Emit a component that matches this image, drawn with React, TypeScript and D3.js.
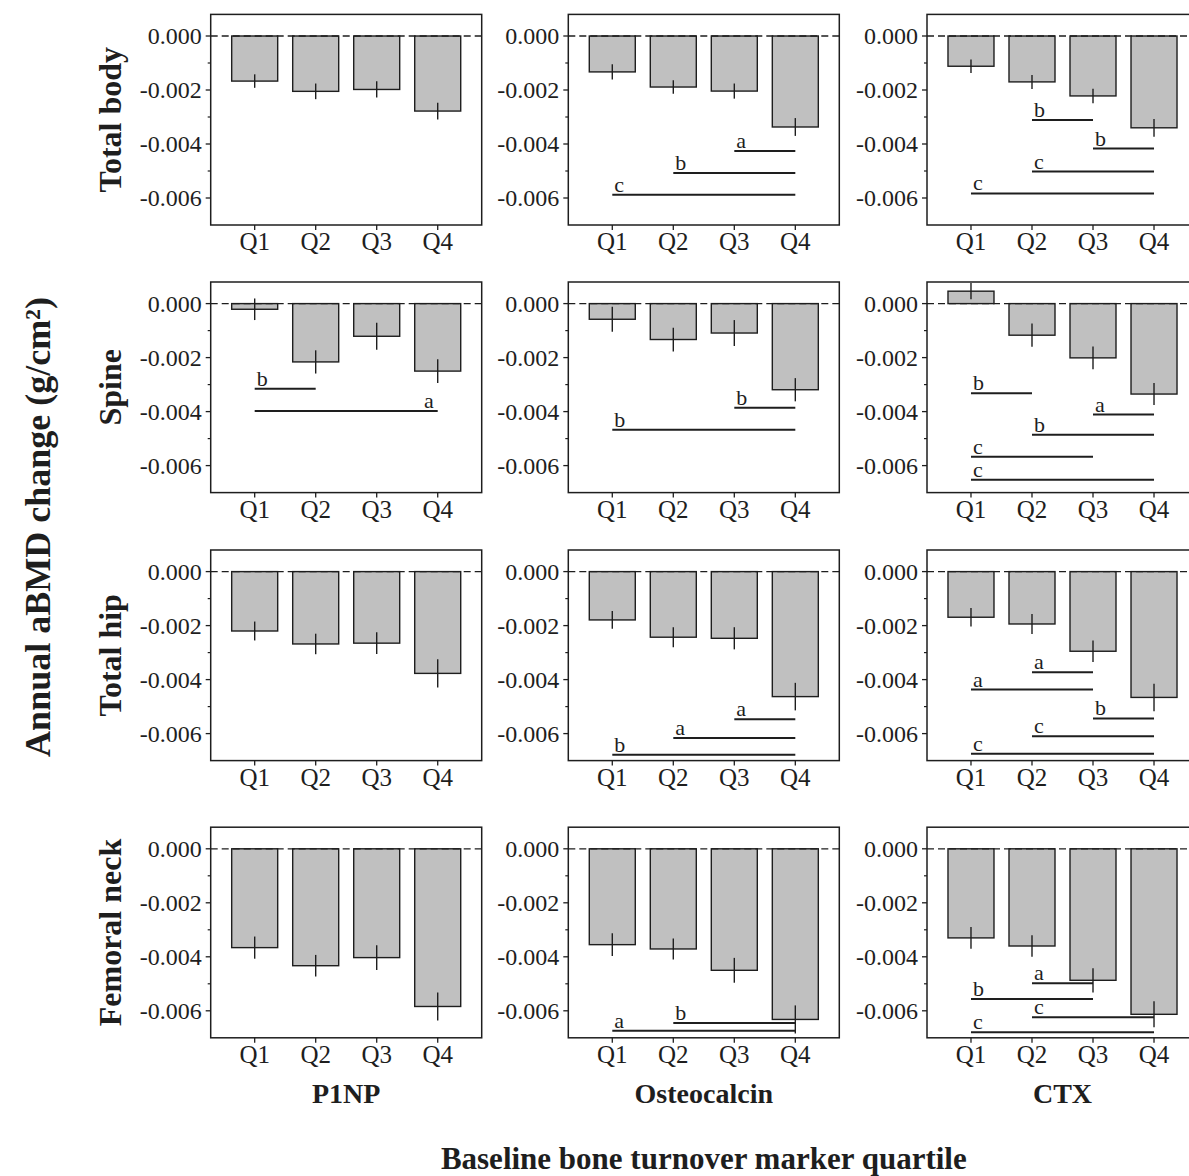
import React from 'react';
import * as d3 from 'd3';

const quartiles = ['Q1', 'Q2', 'Q3', 'Q4'];
const sites = ['Total body', 'Spine', 'Total hip', 'Femoral neck'];
const markers = ['P1NP', 'Osteocalcin', 'CTX'];
const yTicks = [0, -0.002, -0.004, -0.006];
const yMinorTicks = [-0.001, -0.003, -0.005];

// mean annual change, one array per panel (site x marker)
const totalBodyP1NP = [-0.00167, -0.00205, -0.00198, -0.00278];
const totalBodyOC = [-0.00133, -0.00189, -0.00204, -0.00337];
const totalBodyCTX = [-0.00112, -0.0017, -0.00222, -0.0034];
const spineP1NP = [-0.00021, -0.00216, -0.00121, -0.0025];
const spineOC = [-0.00058, -0.00133, -0.00109, -0.00319];
const spineCTX = [0.00046, -0.00117, -0.00201, -0.00335];
const hipP1NP = [-0.0022, -0.00268, -0.00265, -0.00377];
const hipOC = [-0.00179, -0.00243, -0.00247, -0.00463];
const hipCTX = [-0.00169, -0.00194, -0.00295, -0.00466];
const neckP1NP = [-0.00366, -0.00433, -0.00403, -0.00584];
const neckOC = [-0.00355, -0.00371, -0.0045, -0.00632];
const neckCTX = [-0.0033, -0.0036, -0.00487, -0.00613];

// error bar half lengths
const totalBodyP1NPErr = [0.00025, 0.00029, 0.0003, 0.00031];
const totalBodyOCErr = [0.00028, 0.00025, 0.00028, 0.00033];
const totalBodyCTXErr = [0.00025, 0.00026, 0.00027, 0.00033];
const spineP1NPErr = [0.0004, 0.00043, 0.0005, 0.00044];
const spineOCErr = [0.00046, 0.00044, 0.00048, 0.00043];
const spineCTXErr = [0.0003, 0.00043, 0.00042, 0.00041];
const hipP1NPErr = [0.00035, 0.00038, 0.0004, 0.00052];
const hipOCErr = [0.00033, 0.00037, 0.00041, 0.00051];
const hipCTXErr = [0.00034, 0.00037, 0.0004, 0.00051];
const neckP1NPErr = [0.00041, 0.0004, 0.00046, 0.00052];
const neckOCErr = [0.00042, 0.00039, 0.00046, 0.00052];
const neckCTXErr = [0.0004, 0.0004, 0.00045, 0.00048];

// significance lines: [from, to, y, letter, labelAtEnd?]
type Sig = [string, string, number, string, boolean?];
const totalBodyOCSig: Sig[] = [['Q3', 'Q4', -0.00426, 'a'], ['Q2', 'Q4', -0.00507, 'b'], ['Q1', 'Q4', -0.00588, 'c']];
const totalBodyCTXSig: Sig[] = [['Q2', 'Q3', -0.00311, 'b'], ['Q3', 'Q4', -0.00417, 'b'], ['Q2', 'Q4', -0.00502, 'c'], ['Q1', 'Q4', -0.00583, 'c']];
const spineP1NPSig: Sig[] = [['Q1', 'Q2', -0.00315, 'b'], ['Q1', 'Q4', -0.00398, 'a', true]];
const spineOCSig: Sig[] = [['Q3', 'Q4', -0.00386, 'b'], ['Q1', 'Q4', -0.00467, 'b']];
const spineCTXSig: Sig[] = [['Q1', 'Q2', -0.00332, 'b'], ['Q3', 'Q4', -0.00411, 'a'], ['Q2', 'Q4', -0.00486, 'b'], ['Q1', 'Q3', -0.00567, 'c'], ['Q1', 'Q4', -0.00652, 'c']];
const hipOCSig: Sig[] = [['Q3', 'Q4', -0.00547, 'a'], ['Q2', 'Q4', -0.00616, 'a'], ['Q1', 'Q4', -0.00678, 'b']];
const hipCTXSig: Sig[] = [['Q2', 'Q3', -0.00373, 'a'], ['Q1', 'Q3', -0.00437, 'a'], ['Q3', 'Q4', -0.00544, 'b'], ['Q2', 'Q4', -0.0061, 'c'], ['Q1', 'Q4', -0.00675, 'c']];
const neckOCSig: Sig[] = [['Q2', 'Q4', -0.00645, 'b'], ['Q1', 'Q4', -0.00674, 'a']];
const neckCTXSig: Sig[] = [['Q2', 'Q3', -0.00498, 'a'], ['Q1', 'Q3', -0.00556, 'b'], ['Q2', 'Q4', -0.00624, 'c'], ['Q1', 'Q4', -0.00679, 'c']];

const means = [
  [totalBodyP1NP, totalBodyOC, totalBodyCTX],
  [spineP1NP, spineOC, spineCTX],
  [hipP1NP, hipOC, hipCTX],
  [neckP1NP, neckOC, neckCTX],
];
const errs = [
  [totalBodyP1NPErr, totalBodyOCErr, totalBodyCTXErr],
  [spineP1NPErr, spineOCErr, spineCTXErr],
  [hipP1NPErr, hipOCErr, hipCTXErr],
  [neckP1NPErr, neckOCErr, neckCTXErr],
];
const sigs: Sig[][][] = [
  [[], totalBodyOCSig, totalBodyCTXSig],
  [spineP1NPSig, spineOCSig, spineCTXSig],
  [[], hipOCSig, hipCTXSig],
  [[], neckOCSig, neckCTXSig],
];

const W = 271;
const H = 210.6;
const colLeft = [210.7, 568.3, 927];
const rowTop = [14.4, 282, 550, 827.2];
const font = '"Liberation Serif", "Times New Roman", serif';
const ink = '#1e1e1e';

const x = d3.scaleBand<string>().domain(quartiles).range([0, W]).paddingInner(0.246).paddingOuter(0.344);
const y = d3.scaleLinear().domain([-0.007, 0.0008]).range([H, 0]);
const fmt = (v: number) => d3.format('.3f')(v).replace('\u2212', '-');

function Panel({ vals, err, sig }: { vals: number[]; err: number[]; sig: Sig[] }) {
  const cx = (q: string) => (x(q) as number) + x.bandwidth() / 2;
  return (
    <g>
      {vals.map((v, i) => (
        <rect key={'b' + i} x={x(quartiles[i])} width={x.bandwidth()}
          y={Math.min(y(v), y(0))} height={Math.abs(y(v) - y(0))}
          fill="#c0c0c0" stroke={ink} strokeWidth={1.4} />
      ))}
      <line x1={0} x2={W} y1={y(0)} y2={y(0)} stroke={ink} strokeWidth={1.3} strokeDasharray="7,4" />
      {vals.map((v, i) => (
        <line key={'e' + i} x1={cx(quartiles[i])} x2={cx(quartiles[i])}
          y1={y(v + err[i])} y2={y(v - err[i])} stroke={ink} strokeWidth={1.4} />
      ))}
      {sig.map(([a, b, v, lab, atEnd], i) => (
        <g key={'s' + i}>
          <line x1={cx(a)} x2={cx(b)} y1={y(v)} y2={y(v)} stroke={ink} strokeWidth={2} />
          <text x={atEnd ? cx(b) - 4 : cx(a) + 2} y={y(v) - 3} textAnchor={atEnd ? 'end' : 'start'}
            fontSize={22} fontFamily={font} fill={ink}>{lab}</text>
        </g>
      ))}
      <rect x={0} y={0} width={W} height={H} fill="none" stroke={ink} strokeWidth={1.5} />
      {yTicks.map(t => (
        <g key={'yt' + t}>
          <line x1={-5} x2={0} y1={y(t)} y2={y(t)} stroke={ink} strokeWidth={1.3} />
          <text x={-9} y={y(t)} dy="0.35em" textAnchor="end" fontSize={24} fontFamily={font} fill={ink}>{fmt(t)}</text>
        </g>
      ))}
      {yMinorTicks.map(t => (
        <line key={'ym' + t} x1={-3} x2={0} y1={y(t)} y2={y(t)} stroke={ink} strokeWidth={1.2} />
      ))}
      {quartiles.map(q => (
        <g key={'xt' + q}>
          <line x1={cx(q)} x2={cx(q)} y1={H} y2={H + 5} stroke={ink} strokeWidth={1.3} />
          <text x={cx(q)} y={H + 25} textAnchor="middle" fontSize={25} fontFamily={font} fill={ink}>{q}</text>
        </g>
      ))}
    </g>
  );
}

export default function App() {
  return (
    <svg width={1189} height={1176} style={{ position: 'absolute', left: 0, top: 0, background: '#fff' }}>
      {sites.map((s, r) =>
        markers.map((m, c) => (
          <g key={s + m} transform={`translate(${colLeft[c]},${rowTop[r]})`}>
            <Panel vals={means[r][c]} err={errs[r][c]} sig={sigs[r][c]} />
          </g>
        ))
      )}
      {sites.map((s, r) => (
        <text key={s} transform={`translate(121,${rowTop[r] + H / 2}) rotate(-90)`} textAnchor="middle"
          fontSize={32} fontWeight="bold" fontFamily={font} fill={ink}>{s}</text>
      ))}
      {markers.map((m, c) => (
        <text key={m} x={colLeft[c] + W / 2} y={1103} textAnchor="middle"
          fontSize={28} fontWeight="bold" fontFamily={font} fill={ink}>{m}</text>
      ))}
      <text transform="translate(50,527) rotate(-90)" textAnchor="middle" fontSize={36} fontWeight="bold"
        fontFamily={font} fill={ink}>Annual aBMD change (g/cm²)</text>
      <text x={colLeft[1] + W / 2} y={1169} textAnchor="middle" fontSize={31} fontWeight="bold"
        fontFamily={font} fill={ink}>Baseline bone turnover marker quartile</text>
    </svg>
  );
}
